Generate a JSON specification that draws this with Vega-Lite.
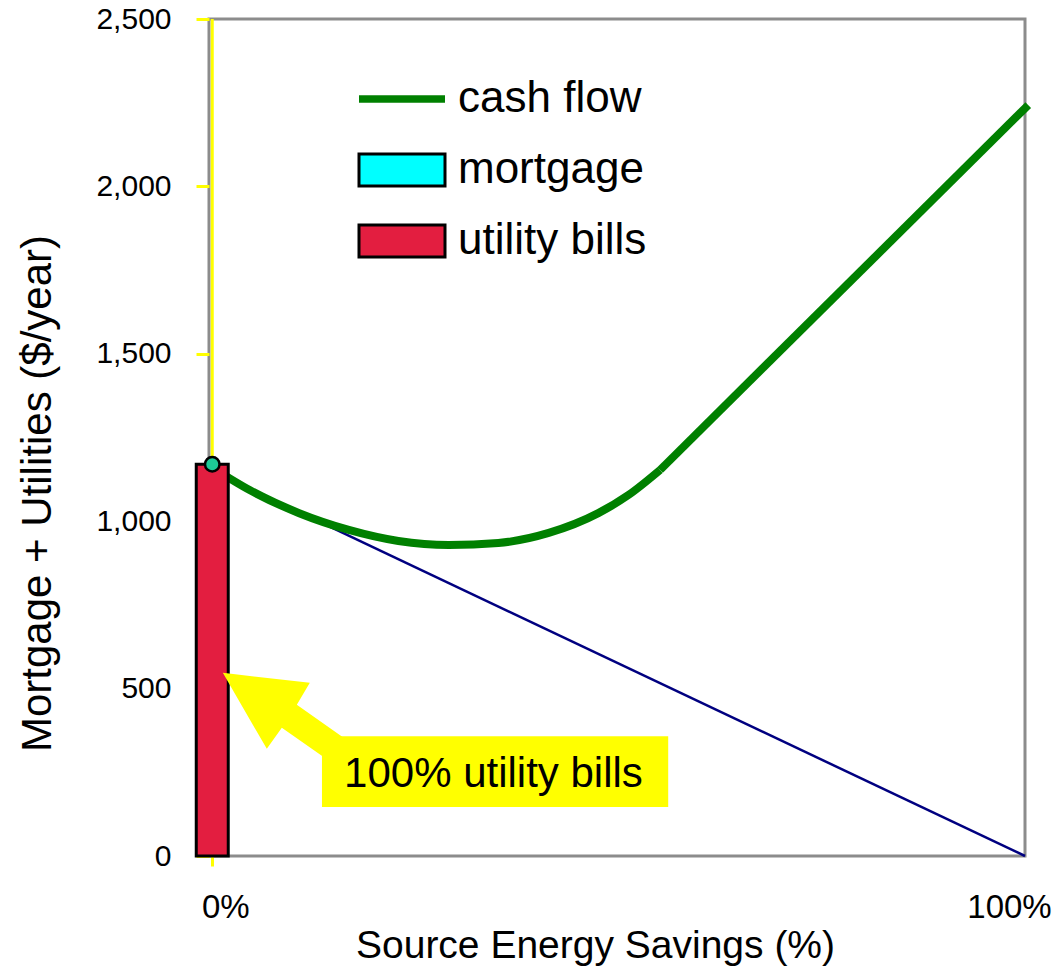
{
  "$schema": "https://vega.github.io/schema/vega-lite/v6.json",
  "width": 816,
  "height": 837,
  "autosize": "none",
  "padding": {"left": 209, "top": 19, "right": 32, "bottom": 121},
  "background": "white",
  "config": {
    "view": {"fill": "#e8e8e8", "stroke": "#8c8c8c", "strokeWidth": 3},
    "font": "Liberation Sans",
    "axisX": {
      "domain": false, "grid": false,
      "tickWidth": 3, "tickSize": 10, "labelFlush": false,
      "labelFontSize": 33, "labelPadding": 25, "labelColor": "black", "labelFont": "Liberation Sans",
      "titleFontSize": 39, "titleFontWeight": "normal", "titleColor": "black", "titleFont": "Liberation Sans",
      "titleX": 386, "titleY": 101, "titleAlign": "center", "titleBaseline": "alphabetic"
    },
    "axisY": {
      "domain": false, "grid": false,
      "tickColor": "#ffff00", "tickWidth": 3, "tickSize": 13,
      "labelFontSize": 30, "labelPadding": 25, "labelColor": "black", "labelFont": "Liberation Sans",
      "titleFontSize": 42, "titleFontWeight": "normal", "titleColor": "black", "titleFont": "Liberation Sans",
      "titleAngle": -90, "titleX": -159, "titleY": 474, "titleAlign": "center", "titleBaseline": "alphabetic"
    }
  },
  "datasets": {
    "cashflow": [
      {"savings": 0, "cost": 1160, "segment": "curve"},
      {"savings": 4.6, "cost": 1093, "segment": "curve"},
      {"savings": 10.7, "cost": 1024, "segment": "curve"},
      {"savings": 16.8, "cost": 974, "segment": "curve"},
      {"savings": 22.9, "cost": 941, "segment": "curve"},
      {"savings": 29.1, "cost": 929, "segment": "curve"},
      {"savings": 35.2, "cost": 935, "segment": "curve"},
      {"savings": 41.4, "cost": 965, "segment": "curve"},
      {"savings": 47.5, "cost": 1024, "segment": "curve"},
      {"savings": 51.2, "cost": 1078, "segment": "curve"},
      {"savings": 55.1, "cost": 1153, "segment": "curve"},
      {"savings": 55.1, "cost": 1153, "segment": "straight"},
      {"savings": 100.4, "cost": 2243, "segment": "straight"}
    ],
    "mortgage": [
      {"savings": 0, "cost": 1150},
      {"savings": 100, "cost": 0}
    ],
    "utility": [
      {"savings": 0, "cost": 1170}
    ],
    "series": [
      {"series": "cash flow"},
      {"series": "mortgage"},
      {"series": "utility bills"}
    ],
    "note": [
      {"label": "100% utility bills"}
    ]
  },
  "layer": [
    {
      "data": {"name": "note"},
      "mark": {"type": "rule", "color": "#ffff00", "strokeWidth": 3},
      "encoding": {
        "x": {"datum": 0, "type": "quantitative"},
        "y": {"datum": 0, "type": "quantitative"},
        "y2": {"datum": 2500}
      }
    },
    {
      "data": {"name": "mortgage"},
      "mark": {"type": "line", "color": "#000080", "strokeWidth": 2.5},
      "encoding": {
        "x": {"field": "savings", "type": "quantitative",
          "scale": {"domain": [-0.4, 100], "nice": false, "zero": false, "padding": 0},
          "axis": {
            "values": [0, 100], "labelExpr": "datum.value + '%'", "title": "Source Energy Savings (%)",
            "tickColor": {"condition": {"test": "datum.value == 0", "value": "#ffff00"}, "value": "transparent"},
            "labelOffset": {"condition": {"test": "datum.value == 0", "value": 13}, "value": -16}
          }
        },
        "y": {"field": "cost", "type": "quantitative",
          "scale": {"domain": [0, 2500], "nice": false, "padding": 0},
          "axis": {"values": [0, 500, 1000, 1500, 2000, 2500], "labelExpr": "format(datum.value, ',')", "title": "Mortgage + Utilities ($/year)"}
        }
      }
    },
    {
      "data": {"name": "cashflow"},
      "mark": {"type": "line", "color": "#008000", "strokeWidth": 8, "interpolate": "monotone", "clip": false, "strokeCap": "butt"},
      "encoding": {
        "x": {"field": "savings", "type": "quantitative"},
        "y": {"field": "cost", "type": "quantitative"},
        "detail": {"field": "segment"}
      }
    },
    {
      "data": {"name": "utility"},
      "mark": {"type": "bar", "size": 32, "fill": "#e31e40", "stroke": "black", "strokeWidth": 3},
      "encoding": {
        "x": {"field": "savings", "type": "quantitative"},
        "y": {"field": "cost", "type": "quantitative"}
      }
    },
    {
      "data": {"name": "utility"},
      "mark": {"type": "point", "filled": true, "fill": "#1dc997", "stroke": "black", "strokeWidth": 2.5, "size": 210, "opacity": 1},
      "encoding": {
        "x": {"field": "savings", "type": "quantitative"},
        "y": {"field": "cost", "type": "quantitative"}
      }
    },
    {
      "data": {"name": "note"},
      "mark": {"type": "point", "filled": true, "fill": "#ffff00", "strokeWidth": 0, "opacity": 1, "size": 4,
        "shape": "M0,0L87,10L74,32L135,75L112,92L59,55L44,76Z"},
      "encoding": {
        "x": {"datum": 1.3, "type": "quantitative"},
        "y": {"datum": 547, "type": "quantitative"}
      }
    },
    {
      "data": {"name": "note"},
      "mark": {"type": "rect", "fill": "#ffff00"},
      "encoding": {
        "x": {"datum": 13.5, "type": "quantitative"},
        "x2": {"datum": 56.1},
        "y": {"datum": 146, "type": "quantitative"},
        "y2": {"datum": 358}
      }
    },
    {
      "data": {"name": "note"},
      "mark": {"type": "text", "fontSize": 42, "font": "Liberation Sans", "color": "black", "align": "center", "baseline": "alphabetic"},
      "encoding": {
        "text": {"field": "label"},
        "x": {"datum": 34.6, "type": "quantitative"},
        "y": {"datum": 206, "type": "quantitative"}
      }
    },
    {
      "data": {"name": "series"},
      "mark": {"type": "point", "filled": true, "opacity": 0},
      "encoding": {
        "color": {
          "field": "series", "type": "nominal",
          "scale": {"domain": ["cash flow", "mortgage", "utility bills"], "range": ["#008000", "#00ffff", "#e31e40"]},
          "legend": {
            "orient": "none", "legendX": 171, "legendY": 58, "title": null,
            "symbolSize": 7396, "symbolStrokeWidth": 3, "symbolStrokeColor": "black", "symbolOpacity": 1,
            "labelFontSize": 44, "labelFont": "Liberation Sans", "labelColor": "black", "labelOffset": 34,
            "labelLimit": 600, "rowPadding": 27, "padding": 0,
            "encode": {"symbols": {"update": {"strokeWidth": {"signal": "datum.value === 'cash flow' ? 0 : 3"}}}}
          }
        },
        "shape": {
          "field": "series", "type": "nominal",
          "scale": {"domain": ["cash flow", "mortgage", "utility bills"],
            "range": ["M-1,-0.085H1V0.085H-1Z", "M-1,-0.37H1V0.37H-1Z", "M-1,-0.37H1V0.37H-1Z"]}
        }
      }
    }
  ]
}
